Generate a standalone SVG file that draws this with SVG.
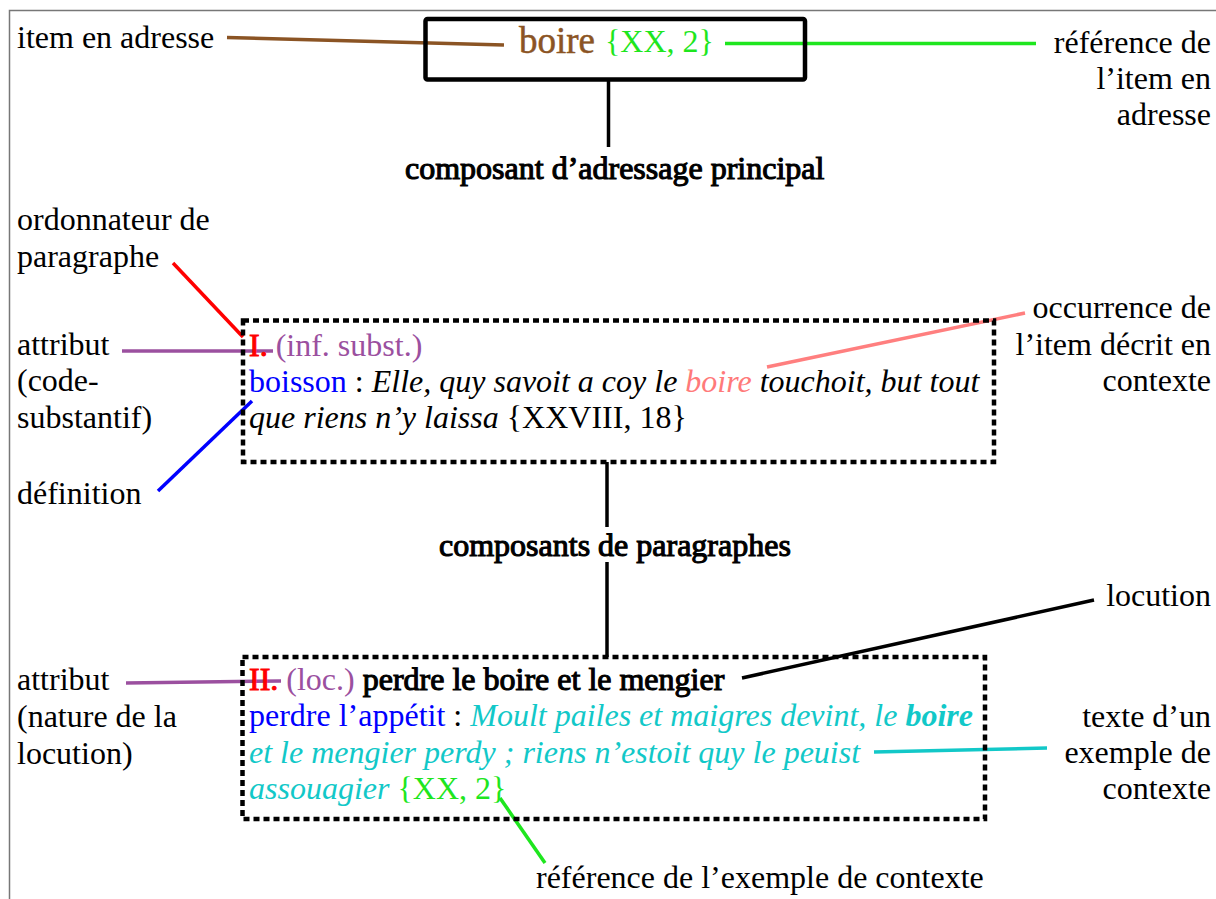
<svg xmlns="http://www.w3.org/2000/svg" width="1216" height="899" viewBox="0 0 1216 899">
<style>
text{font-family:"Liberation Serif","Times New Roman",serif;font-size:32px;fill:#000}
.fb{stroke:#000;stroke-width:1.1}
.it{font-style:italic}
.end{text-anchor:end}
.red{fill:#ff0000;stroke:#ff0000;stroke-width:1}
.pur{fill:#9b509f}
.blu{fill:#0000ff}
.pink{fill:#ff7a7a}
.cy{fill:#12c8c8}
.grn{fill:#1ee61e}
.brn{fill:#8b5424}
.dot{fill:none;stroke:#000;stroke-width:4.5;stroke-dasharray:6 4}
.ln{fill:none;stroke-width:3.5}
</style>
<rect width="1216" height="899" fill="#fff"/>
<path d="M9.5 899V10.5H1216" fill="none" stroke="#777" stroke-width="1.5"/>

<g id="connectors">
  <line class="ln" x1="608.5" y1="81" x2="608.5" y2="147" stroke="#000"/>
  <line class="ln" x1="607" y1="462" x2="607" y2="527" stroke="#000"/>
  <line class="ln" x1="607" y1="562" x2="607" y2="657" stroke="#000"/>
  <line class="ln" x1="227" y1="37.5" x2="504" y2="45" stroke="#8b5424"/>
  <line class="ln" x1="725" y1="43.5" x2="1036" y2="43.5" stroke="#1ee61e" stroke-width="4"/>
  <line class="ln" x1="173" y1="263" x2="243" y2="337" stroke="#ff0000" stroke-width="3"/>
  <line class="ln" x1="122" y1="351" x2="273" y2="351" stroke="#9b509f" stroke-width="4"/>
  <line class="ln" x1="158" y1="491" x2="252" y2="401" stroke="#0000ff" stroke-width="3"/>
  <line class="ln" x1="1025" y1="313" x2="767" y2="367" stroke="#ff7f7f" stroke-width="4"/>
  <line class="ln" x1="126" y1="683" x2="281" y2="681" stroke="#9b509f" stroke-width="4"/>
  <line class="ln" x1="1094" y1="600" x2="742" y2="678" stroke="#000" stroke-width="4"/>
  <line class="ln" x1="874" y1="752" x2="1047" y2="748" stroke="#12c8c8" stroke-width="4"/>
  <line class="ln" x1="500" y1="798" x2="545" y2="863" stroke="#1ee61e" stroke-width="3.5"/>
</g>

<g id="entry-head">
  <rect x="425.5" y="19" width="379.5" height="60.5" rx="2" fill="none" stroke="#000" stroke-width="4.5"/>
  <text x="519" y="53" class="brn" style="font-size:37px;stroke:#8b5424;stroke-width:0.5">boire</text>
  <text x="605" y="52" class="grn">{XX, 2}</text>
</g>

<g id="label-item-adresse"><text x="17" y="48">item en adresse</text></g>
<g id="label-ref-item">
  <text x="1211" y="53" class="end">référence de</text>
  <text x="1211" y="89" class="end">l’item en</text>
  <text x="1211" y="125" class="end">adresse</text>
</g>
<g id="label-composant-adressage"><text x="405" y="179" class="fb">composant d’adressage principal</text></g>

<g id="label-ordonnateur">
  <text x="17" y="230">ordonnateur de</text>
  <text x="17" y="267">paragraphe</text>
</g>
<g id="label-attribut1">
  <text x="17" y="355">attribut</text>
  <text x="17" y="391">(code-</text>
  <text x="17" y="428">substantif)</text>
</g>
<g id="label-definition"><text x="17" y="504">définition</text></g>
<g id="label-occurrence">
  <text x="1211" y="318" class="end">occurrence de</text>
  <text x="1211" y="355" class="end">l’item décrit en</text>
  <text x="1211" y="391" class="end">contexte</text>
</g>

<g id="paragraph-1">
  <rect class="dot" x="243" y="320.5" width="751" height="141.5"/>
  <text x="249" y="356"><tspan class="red">I.</tspan><tspan class="pur"> (inf. subst.)</tspan></text>
  <text x="249" y="392"><tspan class="blu">boisson</tspan> : <tspan class="it">Elle, quy savoit a coy le </tspan><tspan class="it pink">boire</tspan><tspan class="it"> touchoit, but tout</tspan></text>
  <text x="249" y="428"><tspan class="it">que riens n’y laissa</tspan> {XXVIII, 18}</text>
</g>

<g id="label-composants-paragraphes"><text x="439" y="556" class="fb">composants de paragraphes</text></g>

<g id="label-locution"><text x="1211" y="606" class="end">locution</text></g>
<g id="label-attribut2">
  <text x="17" y="690">attribut</text>
  <text x="17" y="727">(nature de la</text>
  <text x="17" y="764">locution)</text>
</g>
<g id="label-texte-exemple">
  <text x="1211" y="727" class="end">texte d’un</text>
  <text x="1211" y="763" class="end">exemple de</text>
  <text x="1211" y="799" class="end">contexte</text>
</g>

<g id="paragraph-2">
  <rect class="dot" x="242.5" y="657" width="742.5" height="162"/>
  <text x="249" y="690"><tspan class="red">II.</tspan><tspan class="pur"> (loc.)</tspan> <tspan class="fb">perdre le boire et le mengier</tspan></text>
  <text x="249" y="726"><tspan class="blu">perdre l’appétit</tspan> : <tspan class="it cy">Moult pailes et maigres devint, le </tspan><tspan class="it cy" style="font-weight:bold">boire</tspan></text>
  <text x="249" y="763" class="it cy">et le mengier perdy ; riens n’estoit quy le peuist</text>
  <text x="249" y="799"><tspan class="it cy">assouagier</tspan><tspan class="grn"> {XX, 2}</tspan></text>
</g>

<g id="label-ref-exemple"><text x="536" y="888">référence de l’exemple de contexte</text></g>
</svg>
